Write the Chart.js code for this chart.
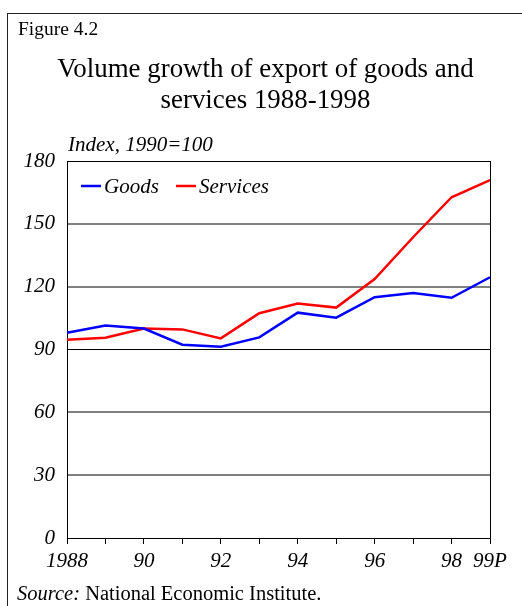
<!DOCTYPE html>
<html>
<head>
<meta charset="utf-8">
<script src="https://cdn.jsdelivr.net/npm/chart.js@4.4.1/dist/chart.umd.min.js"></script>
<style>
  html, body { margin: 0; padding: 0; background: #fff; }
  body { width: 522px; height: 606px; position: relative; overflow: hidden; font-family: 'Liberation Serif', 'Times New Roman', serif; color: #000; }
  #frame { position: absolute; left: 7px; top: 13px; width: 540px; height: 620px; border-top: 1.5px solid #222; border-left: 1.5px solid #222; }
  #wrap { position: absolute; left: 0; top: 0; width: 522px; height: 606px; }
  .txt { position: absolute; white-space: nowrap; }
  #fig { left: 18px; top: 18px; font-size: 19.5px; }
  #title { left: 0; width: 531px; top: 53px; text-align: center; font-size: 26.9px; line-height: 30.6px; }
  #unit { left: 68px; top: 132px; font-size: 21px; font-style: italic; }
  #src { left: 17px; top: 582px; font-size: 20.5px; }
</style>
</head>
<body>
<div id="frame"></div>
<div id="wrap"><canvas id="c" width="522" height="606"></canvas></div>
<div class="txt" id="fig">Figure 4.2</div>
<div class="txt" id="title">Volume growth of export of goods and<br>services 1988-1998</div>
<div class="txt" id="unit">Index, 1990=100</div>
<div class="txt" id="src"><i>Source:</i> National Economic Institute.</div>
<script>
// anos 1988..1999 (99P = previsão)
const years = ['1988', '', '90', '', '92', '', '94', '', '96', '', '98', '99P'];
const goods = [98, 101.4, 100, 92.3, 91.3, 95.8, 107.6, 105.2, 115, 117, 114.7, 124.5];
const services = [94.7, 95.6, 100, 99.6, 95.3, 107.3, 112, 110, 123.6, 143.6, 162.7, 170.9];

const serifItalic = { family: "'Liberation Serif', 'Times New Roman', serif", size: 21, style: 'italic' };

// moldura do lado direito do gráfico
const frameRight = {
  id: 'frameRight',
  afterDraw(chart) {
    const { ctx, chartArea: a } = chart;
    ctx.save();
    ctx.strokeStyle = '#000';
    ctx.lineWidth = 1;
    ctx.beginPath();
    ctx.moveTo(a.right + 0.5, a.top);
    ctx.lineTo(a.right + 0.5, a.bottom);
    ctx.stroke();
    ctx.restore();
  },
};

// legenda dentro da área do gráfico, em linha
const innerLegend = {
  id: 'innerLegend',
  afterDatasetsDraw(chart) {
    const { ctx, chartArea: a } = chart;
    const offsets = [14, 109];
    ctx.save();
    ctx.font = `italic 21px ${serifItalic.family}`;
    ctx.textBaseline = 'middle';
    chart.data.datasets.forEach((ds, i) => {
      const x = a.left + offsets[i];
      const y = a.top + 25;
      ctx.strokeStyle = ds.borderColor;
      ctx.lineWidth = 2.5;
      ctx.beginPath();
      ctx.moveTo(x, y);
      ctx.lineTo(x + 20, y);
      ctx.stroke();
      ctx.fillStyle = '#000';
      ctx.fillText(ds.label, x + 23, y + 1);
    });
    ctx.restore();
  },
};

new Chart(document.getElementById('c'), {
  type: 'line',
  data: {
    labels: years,
    datasets: [
      { label: 'Goods', data: goods, borderColor: '#0000ff', borderWidth: 2.5, pointRadius: 0, tension: 0 },
      { label: 'Services', data: services, borderColor: '#ff0000', borderWidth: 2.5, pointRadius: 0, tension: 0 },
    ],
  },
  options: {
    responsive: false,
    animation: false,
    layout: { padding: { left: 0, top: 161, right: 32, bottom: 18 } },
    plugins: { legend: { display: false }, tooltip: { enabled: false } },
    scales: {
      x: {
        afterFit: (s) => { s.height = 50; },
        grid: { drawOnChartArea: false, drawTicks: true, tickLength: 6, color: '#000', lineWidth: 1 },
        border: { color: '#000', width: 1 },
        ticks: { autoSkip: false, maxRotation: 0, color: '#000', font: serifItalic, padding: 5 },
      },
      y: {
        min: 0, max: 180,
        afterFit: (s) => { s.width = 67; },
        grid: {
          drawTicks: false,
          color: (c) => (c.tick.value === 90 || c.tick.value === 180 || c.tick.value === 0) ? '#000' : '#808080',
          lineWidth: (c) => (c.tick.value === 90 || c.tick.value === 180 || c.tick.value === 0) ? 1 : 2,
        },
        border: { color: '#000', width: 1 },
        ticks: { stepSize: 30, color: '#000', font: serifItalic, padding: 12 },
      },
    },
  },
  plugins: [frameRight, innerLegend],
});
</script>
</body>
</html>
